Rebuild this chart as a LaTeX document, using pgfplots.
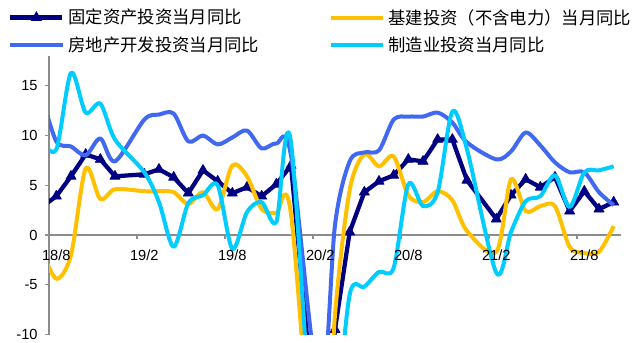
\documentclass[border=0pt]{standalone}
\usepackage{fontspec}
\setmainfont{Liberation Sans}
\newfontfamily\cjk{Noto Sans CJK SC}
\usepackage{pgfplots}
\usepackage{pgfplotstable}
\pgfplotsset{compat=1.18}
\definecolor{cFAI}{RGB}{0,0,128}
\definecolor{cRE}{RGB}{64,104,240}
\definecolor{cINF}{RGB}{255,192,0}
\definecolor{cMF}{RGB}{0,204,255}

\pgfplotsset{
  layers/labelsontop/.define layer set={
    axis background,axis grid,axis ticks,axis lines,main,axis tick labels,axis descriptions,axis foreground
  }{
    grid style={/pgfplots/on layer=axis grid},
    tick style={/pgfplots/on layer=axis ticks},
    axis line style={/pgfplots/on layer=axis lines},
    label style={/pgfplots/on layer=axis descriptions},
    legend style={/pgfplots/on layer=axis descriptions},
    title style={/pgfplots/on layer=axis descriptions},
    ticklabel style={/pgfplots/on layer=axis tick labels},
    axis background@ style={/pgfplots/on layer=axis background},
  },
}

% x: month index, 0 = 2018/8 ... 38 = 2021/10 (January merged into February)
\pgfplotstableread{
x y
-1 2.8
0 3.9
1 5.9
2 8.1
3 7.6
4 5.9
6 6.1
7 6.6
8 5.8
9 4.2
10 6.5
11 5.4
12 4.2
13 4.8
14 3.9
15 5.1
16 7.0
18 -24.5
19 -9.5
20 0.3
21 4.3
22 5.4
23 6.0
24 7.6
25 7.4
26 9.6
27 9.6
28 5.5
30 1.6
31 4.0
32 5.6
33 4.8
34 5.8
35 2.4
36 4.4
37 2.6
38 3.3
}\fai

\pgfplotstableread{
x y
-1 -1.5
0 -4.4
1 -2.0
2 6.7
3 3.6
4 4.6
6 4.4
7 4.4
8 4.3
9 3.1
10 4.3
11 2.6
12 7.0
13 5.9
14 2.6
15 2.2
16 2.1
18 -30.3
19 -8.0
20 4.5
21 8.1
22 6.9
23 7.9
24 4.0
25 3.3
26 4.4
27 3.5
28 0.4
30 -1.7
31 5.6
32 2.4
33 2.9
34 2.9
35 -1.2
36 -1.8
37 -1.7
38 0.9
}\infra

\pgfplotstableread{
x y
-1 14.0
0 9.4
1 8.9
2 8.0
3 9.7
4 7.4
6 11.6
7 12.1
8 12.2
9 9.4
10 10.0
11 9.1
12 9.8
13 10.5
14 8.7
15 9.2
16 8.0
18 -16.3
19 1.0
20 7.4
21 8.3
22 8.5
23 11.6
24 11.9
25 11.9
26 12.3
27 11.3
28 9.3
30 7.6
31 8.4
32 10.3
33 9.0
34 7.3
35 6.3
36 6.3
37 4.3
38 3.0
}\realest

\pgfplotstableread{
x y
-1 9.5
0 8.6
1 16.3
2 12.3
3 13.2
4 9.6
6 6.3
7 3.3
8 -1.2
9 3.2
10 4.0
11 5.0
12 -1.4
13 2.3
14 3.3
15 1.3
16 9.3
18 -31.5
19 -20.0
20 -6.0
21 -5.2
22 -3.7
23 -3.3
24 5.1
25 2.9
26 4.3
27 12.4
28 8.6
30 -3.8
31 0.3
32 3.4
33 3.9
34 6.0
35 2.8
36 6.3
37 6.5
38 6.9
}\manuf

\begin{document}
\begin{tikzpicture}
\begin{axis}[
  set layers=labelsontop,
  at={(36.75pt,5.6pt)}, anchor=south west,
  scale only axis, width=429pt, height=209pt,
  xmin=-0.5, xmax=38.5, ymin=-10, ymax=18,
  axis x line=middle, axis y line=left,
  axis line style={-, draw=black!45, line width=0.9pt},
  tick style={draw=black!45, line width=0.9pt},
  tick align=outside,
  major tick length=3pt, minor tick length=3pt,
  xtick={0,6,12,18,24,30,36},
  xticklabels={18/8,19/2,19/8,20/2,20/8,21/2,21/8},
  major x tick style={draw=none},
  minor xtick={5.5,11.5,17.5,23.5,29.5,35.5},
  ytick={-10,-5,0,5,10,15},
  yticklabels={-10,-5,0,5,10,15},
  ticklabel style={font=\fontsize{11pt}{13pt}\selectfont, text=black},
  xticklabel style={yshift=-4.5pt},
  yticklabel style={xshift=-2pt},
  clip mode=individual,
  legend columns=2,
  legend cell align=left,
  legend style={at={(axis description cs:-0.0717,1.178)}, anchor=north west,
    draw=none, fill=none, inner sep=0pt,
    font=\cjk\fontsize{13pt}{15pt}\selectfont,
    nodes={inner xsep=3pt, inner ysep=2pt, text width=192pt},
    row sep=4pt},
  legend image code/.code={\draw[#1, mark repeat=2, mark phase=2] plot coordinates {(0pt,0pt) (19.5pt,0pt) (39pt,0pt)};},
  line join=round,
]
\addplot[cFAI, line width=3.2pt, mark=triangle*, mark size=4.4pt, mark options={solid, fill=cFAI, line width=0.5pt}] table {\fai};
\addlegendentry{固定资产投资当月同比}
\addplot[cINF, line width=3pt, smooth, tension=0.5] table {\infra};
\addlegendentry{基建投资（不含电力）当月同比}
\addplot[cRE, line width=3pt, smooth, tension=0.5] table {\realest};
\addlegendentry{房地产开发投资当月同比}
\addplot[cMF, line width=3pt, smooth, tension=0.5] table {\manuf};
\addlegendentry{制造业投资当月同比}
\end{axis}
\pgfresetboundingbox
\path[use as bounding box] (0,0) rectangle (480.75pt,256.5pt);
\end{tikzpicture}
\end{document}
